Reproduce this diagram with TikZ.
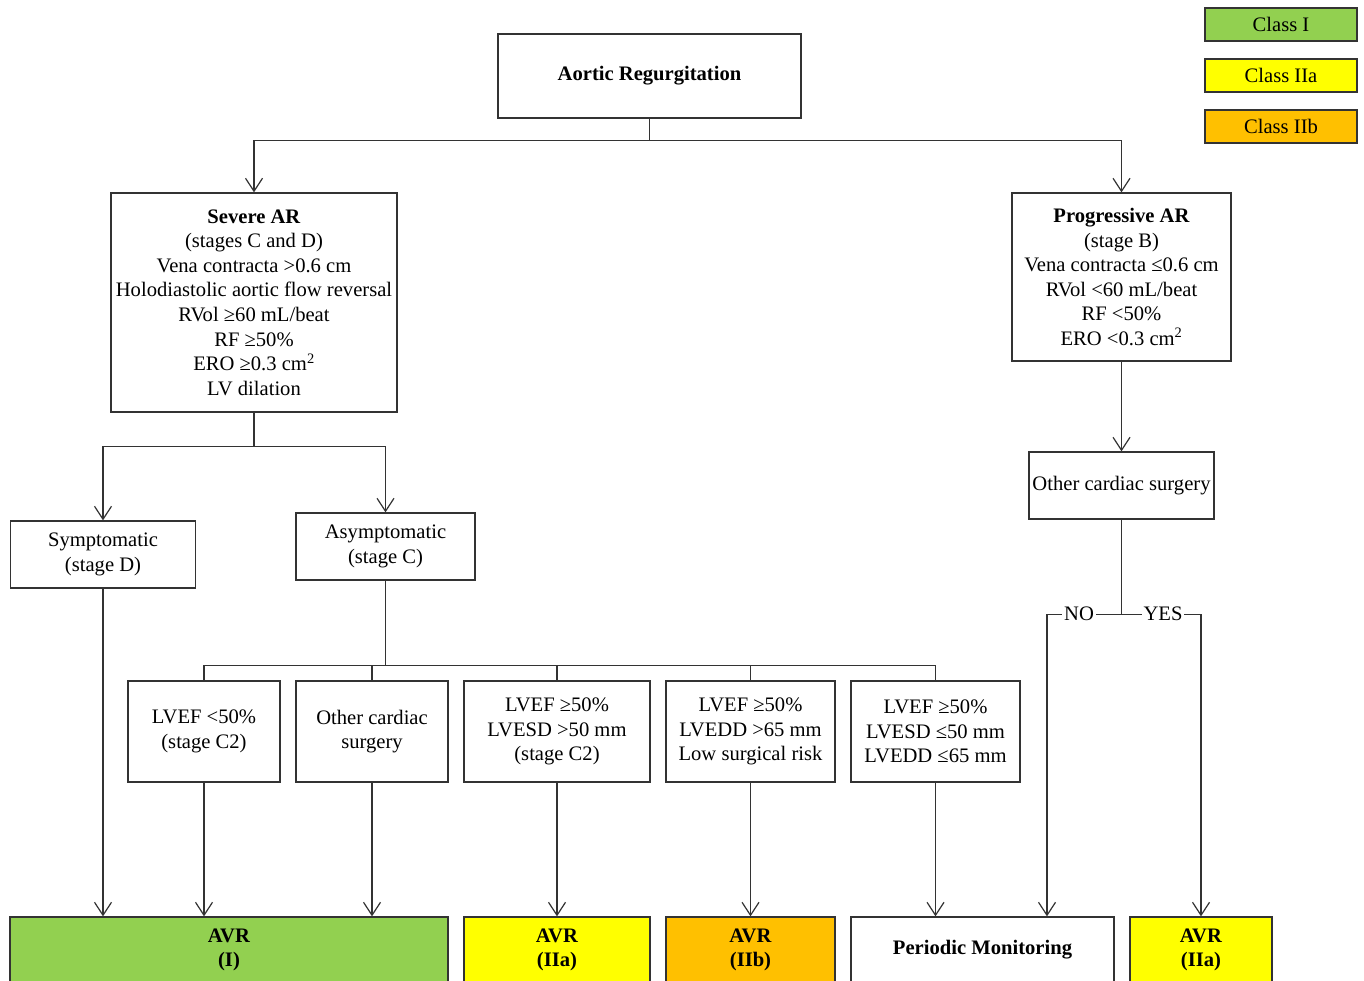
\documentclass[tikz,border=0pt]{standalone}
\usepackage{fontspec}
\setmainfont{Liberation Serif}
\usetikzlibrary{arrows.meta,calc}
\definecolor{linec}{HTML}{333333}
\definecolor{cI}{HTML}{92D050}
\definecolor{cIIa}{HTML}{FFFF00}
\definecolor{cIIb}{HTML}{FFC000}
\newcommand{\fsz}{\fontsize{20.6}{24.6}\selectfont}
\begin{document}
\begin{tikzpicture}[x=1pt,y=-1pt,
  box/.style={draw=linec, line width=1.3pt, align=center, inner sep=0pt, font=\fsz, text=black},
  arr/.style={draw=linec, line width=1.2pt, -{Straight Barb[length=13pt,width=17pt,line width=1.2pt]}},
  ln/.style={draw=linec, line width=1.2pt},
  lab/.style={fill=white, inner xsep=2pt, inner ysep=0pt, font=\fsz}]
\useasboundingbox (0,0) rectangle (1364,981);
\clip (0,0) rectangle (1364,981);
\fill[white] (0,0) rectangle (1364,981);
% legend
\node[box, fill=cI, minimum width=152pt, minimum height=33pt] (l1) at (1281,24.5) {Class I};
\node[box, fill=cIIa, minimum width=152pt, minimum height=33pt] (l2) at (1281,75.5) {Class IIa};
\node[box, fill=cIIb, minimum width=152pt, minimum height=33pt] (l3) at (1281,126.5) {Class IIb};
% main boxes
\node[box, minimum width=303pt, minimum height=84pt] (ar) at (649.5,76) {\textbf{Aortic Regurgitation}};
\node[box, minimum width=286pt, minimum height=219pt] (sev) at (254,302.5) {\textbf{Severe AR}\\(stages C and D)\\Vena contracta >0.6 cm\\Holodiastolic aortic flow reversal\\RVol ≥60 mL/beat\\RF ≥50\%\\ERO ≥0.3 cm\textsuperscript{2}\\LV dilation};
\node[box, minimum width=219pt, minimum height=168pt] (prog) at (1121.5,277) {\textbf{Progressive AR}\\(stage B)\\Vena contracta ≤0.6 cm\\RVol <60 mL/beat\\RF <50\%\\ERO <0.3 cm\textsuperscript{2}};
\node[box, minimum width=185pt, minimum height=67pt] (sym) at (103,554.5) {Symptomatic\\(stage D)};
\node[box, minimum width=179pt, minimum height=67pt] (asym) at (385.5,546.5) {Asymptomatic\\(stage C)};
\node[box, minimum width=185pt, minimum height=67pt] (osurg) at (1121.5,485.5) {Other cardiac surgery};
\node[box, minimum width=152pt, minimum height=101pt] (r1) at (204,731.5) {LVEF <50\%\\(stage C2)};
\node[box, minimum width=152pt, minimum height=101pt] (r2) at (372,731.5) {Other cardiac\\surgery};
\node[box, minimum width=186pt, minimum height=101pt] (r3) at (557,731.5) {LVEF ≥50\%\\LVESD >50 mm\\(stage C2)};
\node[box, minimum width=169pt, minimum height=101pt] (r4) at (750.5,731.5) {LVEF ≥50\%\\LVEDD >65 mm\\Low surgical risk};
\node[box, minimum width=169pt, minimum height=101pt] (r5) at (935.5,731.5) {LVEF ≥50\%\\LVESD ≤50 mm\\LVEDD ≤65 mm};
% bottom boxes
\node[box, fill=cI, minimum width=438pt, minimum height=66pt] (b1) at (229,950) {\textbf{AVR}\\\textbf{(I)}};
\node[box, fill=cIIa, minimum width=186pt, minimum height=66pt] (b2) at (557,950) {\textbf{AVR}\\\textbf{(IIa)}};
\node[box, fill=cIIb, minimum width=169pt, minimum height=66pt] (b3) at (750.5,950) {\textbf{AVR}\\\textbf{(IIb)}};
\node[box, fill=white, minimum width=263pt, minimum height=66pt] (b4) at (982.5,950) {\textbf{Periodic Monitoring}};
\node[box, fill=cIIa, minimum width=142pt, minimum height=66pt] (b5) at (1201,950) {\textbf{AVR}\\\textbf{(IIa)}};
% connectors
\draw[ln] (ar.south) -- ++(0,22) coordinate (tb);
\draw[arr] (tb) -| (sev.north);
\draw[arr] (tb) -| (prog.north);
\draw[ln] (sev.south) -- ++(0,34) coordinate (sb);
\draw[arr] (sb) -| (sym.north);
\draw[arr] (sb) -| (asym.north);
\draw[ln] (asym.south) -- ++(0,85) coordinate (ab);
\draw[ln] (ab) -| (r1.north);
\draw[ln] (ab) -| (r2.north);
\draw[ln] (ab) -| (r3.north);
\draw[ln] (ab) -| (r4.north);
\draw[ln] (ab) -| (r5.north);
\draw[arr] (sym.south) -- (sym.south |- b1.north);
\draw[arr] (r1.south) -- (r1.south |- b1.north);
\draw[arr] (r2.south) -- (r2.south |- b1.north);
\draw[arr] (r3.south) -- (b2.north);
\draw[arr] (r4.south) -- (b3.north);
\draw[arr] (r5.south) -- (r5.south |- b4.north);
\draw[arr] (prog.south) -- (osurg.north);
\draw[ln] (osurg.south) -- ++(0,95) coordinate (ob);
\draw[arr] (ob) -| ([xshift=64.5pt]b4.north);
\draw[arr] (ob) -| (b5.north);
\node[lab] (no) at (1079,614) {NO};
\node[lab] (yes) at (1163,614) {YES};
\end{tikzpicture}
\end{document}
